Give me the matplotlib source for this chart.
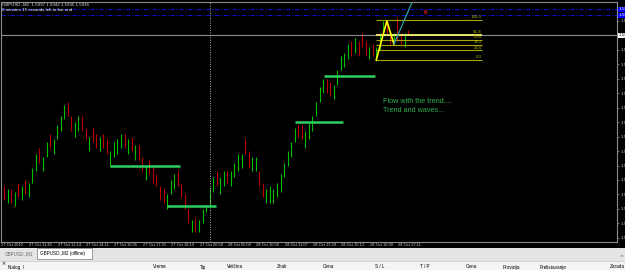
import numpy as np
import matplotlib.pyplot as plt
from matplotlib.patches import Rectangle
from matplotlib import transforms

plt.rcParams['font.family'] = ['Liberation Sans', 'DejaVu Sans']

# GBPUSD offline M2 bars, oldest first
highs = [1.5883, 1.5882, 1.5882, 1.5881, 1.5884, 1.5883, 1.5885, 1.5884, 1.5889, 1.5894,
         1.5896, 1.5893, 1.5898, 1.5901, 1.5899, 1.5904, 1.5907, 1.5911, 1.5912, 1.5907,
         1.5905, 1.5907, 1.5907, 1.5903, 1.5900, 1.5903, 1.5901, 1.5900, 1.5901, 1.5899,
         1.5895, 1.5898, 1.5899, 1.5901, 1.5901, 1.5899, 1.5900, 1.5897, 1.5897, 1.5893,
         1.5890, 1.5892, 1.5890, 1.5887, 1.5883, 1.5882, 1.5880, 1.5885, 1.5887, 1.5888,
         1.5884, 1.5880, 1.5875, 1.5871, 1.5872, 1.5871, 1.5875, 1.5876, 1.5882, 1.5886,
         1.5888, 1.5886, 1.5888, 1.5888, 1.5888, 1.5891, 1.5894, 1.5894, 1.5899, 1.5895,
         1.5893, 1.5893, 1.5888, 1.5884, 1.5882, 1.5883, 1.5882, 1.5884, 1.5887, 1.5891,
         1.5895, 1.5898, 1.5903, 1.5904, 1.5904, 1.5902, 1.5905, 1.5907, 1.5912, 1.5917,
         1.5920, 1.5920, 1.5919, 1.5918, 1.5923, 1.5928, 1.5929, 1.5932, 1.5933, 1.5934,
         1.5933, 1.5936, 1.5933, 1.5931, 1.5932, 1.5931, 1.5936, 1.5940, 1.5940, 1.5936,
         1.5936, 1.5941, 1.5936, 1.5936, 1.5937]
lows = [1.5878, 1.5877, 1.5877, 1.5876, 1.5879, 1.5878, 1.5880, 1.5879, 1.5884, 1.5888,
        1.5891, 1.5888, 1.5893, 1.5896, 1.5894, 1.5899, 1.5902, 1.5906, 1.5907, 1.5902,
        1.5900, 1.5902, 1.5902, 1.5899, 1.5895, 1.5898, 1.5896, 1.5895, 1.5896, 1.5894,
        1.5890, 1.5893, 1.5894, 1.5896, 1.5896, 1.5894, 1.5895, 1.5892, 1.5892, 1.5888,
        1.5885, 1.5887, 1.5884, 1.5883, 1.5878, 1.5877, 1.5875, 1.5880, 1.5882, 1.5883,
        1.5879, 1.5875, 1.5870, 1.5867, 1.5867, 1.5867, 1.5870, 1.5874, 1.5876, 1.5881,
        1.5883, 1.5880, 1.5883, 1.5884, 1.5883, 1.5886, 1.5888, 1.5889, 1.5894, 1.5889,
        1.5888, 1.5888, 1.5883, 1.5879, 1.5877, 1.5877, 1.5877, 1.5879, 1.5881, 1.5886,
        1.5890, 1.5893, 1.5898, 1.5900, 1.5899, 1.5896, 1.5899, 1.5902, 1.5907, 1.5912,
        1.5915, 1.5915, 1.5914, 1.5913, 1.5918, 1.5923, 1.5924, 1.5927, 1.5928, 1.5929,
        1.5928, 1.5931, 1.5928, 1.5927, 1.5928, 1.5926, 1.5930, 1.5935, 1.5936, 1.5932,
        1.5932, 1.5933, 1.5932, 1.5931, 1.5935]
# u = bull bar, d = bear bar, ten bars per chunk
dirs = ("dudududuuu" "duuduuuudd" "uudduddudd" "uuuudududd" "uddddduuud"
        "ddduduuuuu" "duuduuuudd" "uudduuuuuu" "uuudduuuuu" "udduuuuudu"
        "ddduduuudd" "uddud")

time_labels = ['27 Oct 2010', '27 Oct 11:45', '27 Oct 12:14', '27 Oct 14:11', '27 Oct 16:05',
               '27 Oct 17:25', '27 Oct 18:19', '27 Oct 20:58', '28 Oct 05:04', '28 Oct 10:08',
               '28 Oct 11:07', '28 Oct 13:29', '28 Oct 15:13', '28 Oct 16:09', '28 Oct 17:11']
label_step = 8
separator_bar = 58

bid = 1.5935
bid_text = '1.5936'
blue_levels = [1.5944, 1.5942]

fib_low, fib_high = 1.59265, 1.59405
fib_ratios = [100.0, 61.8, 50.0, 38.2, 23.6, 0.0]
fib_start, fib_end = 105, 134.8
zig_bars = [105, 108, 110]
zig_prices = [1.59265, 1.5940, 1.5932]
ray_bars = [110, 116]
ray_prices = [1.5932, 1.5949]

lvl_start = [29.9, 46.0, 82.1, 90.3]
lvl_end = [49.6, 59.8, 95.6, 104.7]
lvl_price = [1.5890, 1.5876, 1.5905, 1.5921]

# screen geometry of the MT4 window (pixels)
W, H = 625, 270
bar0_px, bar_px = 4.0, 3.545
ref_price, ref_y, px_per_pip = 1.5940, 21.0, 2.89
ax_l, ax_r, ax_t, ax_b = 0.5, 617.0, 1.7, 241.5


def y2p(y):
    return ref_price - (y - ref_y) / px_per_pip / 10000


fig = plt.figure(figsize=(W / 100, H / 100), dpi=100, facecolor='black')
ax = fig.add_axes([ax_l / W, (H - ax_b) / H, (ax_r - ax_l) / W, (ax_b - ax_t) / H])
ax.set_facecolor('black')
ax.set_xlim((ax_l - bar0_px) / bar_px, (ax_r - bar0_px) / bar_px)
ax.set_ylim(y2p(ax_b), y2p(ax_t))
for s in ax.spines.values():
    s.set_color('#8c8c8c')
    s.set_linewidth(0.8)

# bars
x = np.arange(len(highs))
cols = ['#00c000' if d == 'u' else '#c00000' for d in dirs]
ax.vlines(x, lows, highs, colors=cols, linewidth=0.8)

# price lines
ax.axhline(bid, color='#8c8c8c', lw=0.8)
for lv in blue_levels:
    ax.axhline(lv, color='#1010c8', lw=0.8, ls=(0, (4, 1.5, 1, 1.5)))
ax.axvline(separator_bar, color='#b0b0b0', lw=0.7, ls=(0, (1, 1.5)))

# support / resistance marks
ax.hlines(lvl_price, lvl_start, lvl_end, colors='#2ed060', lw=1.8)

# fibonacci
for r in fib_ratios:
    p = fib_low + (fib_high - fib_low) * r / 100
    c, w = ('#f4f470', 1.3) if r == 61.8 else ('#a8a800', 0.8)
    ax.hlines(p, fib_start, fib_end, colors=c, lw=w)
    ax.annotate('%.1f' % r, (fib_end, p), xytext=(0, 0.4), textcoords='offset points',
                ha='right', va='bottom', fontsize=3.2, color='#b0b000')
ax.plot(zig_bars, zig_prices, color='#ffff00', lw=1.2)
ax.plot(ray_bars, ray_prices, color='#2aa0a8', lw=0.9)
ax.text(119, 1.5943, '6', color='#e01010', fontsize=4.5, fontweight='bold', ha='center', va='center')

ax.text(107, 1.5912, 'Flow with the trend....', color='#30b050', fontsize=5.2, va='center')
ax.text(107, 1.5909, 'Trend and waves...', color='#30b050', fontsize=5.2, va='center')

# axes ticks
yt = [round(1.5865 + 0.0005 * k, 4) for k in range(16)]
yt = [v for v in yt if abs(v - 1.5935) > 1e-6]
ax.set_yticks(yt)
ax.set_yticklabels(['%.4f' % v for v in yt])
ax.yaxis.tick_right()
ax.tick_params(axis='y', length=1.5, width=0.5, color='#8c8c8c', pad=1,
               labelsize=3.2, labelcolor='#c8c8c8')
xt = list(range(0, len(time_labels) * label_step, label_step))
ax.set_xticks(xt)
ax.set_xticklabels(time_labels)
ax.tick_params(axis='x', length=1, width=0.5, color='#8c8c8c', pad=0.4,
               labelsize=2.9, labelcolor='#c8c8c8')
shift = transforms.ScaledTranslation(-3 / 100, 0, fig.dpi_scale_trans)
for lab in ax.get_xticklabels():
    lab.set_ha('left')
    lab.set_transform(lab.get_transform() + shift)

ax.annotate(bid_text, (1, bid), xycoords=('axes fraction', 'data'), xytext=(1.2, 0),
            textcoords='offset points', ha='left', va='center', fontsize=3.2, color='black',
            bbox=dict(boxstyle='square,pad=0.15', fc='white', ec='none'), annotation_clip=False)
for lv in blue_levels:
    ax.annotate('%.4f' % lv, (1, lv), xycoords=('axes fraction', 'data'), xytext=(1.2, 0),
                textcoords='offset points', ha='left', va='center', fontsize=3.2, color='white',
                bbox=dict(boxstyle='square,pad=0.15', fc='#0000ff', ec='none'), annotation_clip=False)

# terminal window bits drawn in screen pixels
ui = fig.add_axes([0, 0, 1, 1], zorder=5)
ui.set_xlim(0, W)
ui.set_ylim(H, 0)
ui.axis('off')
ui.text(2, 4.6, 'GBPUSD.,M2  1.5937 1.5942 1.5935 1.5936', fontsize=3.2, color='#e0e0e0', va='center')
ui.text(2, 9.6, '0 minutes 15 seconds left to bar end', fontsize=3.2, color='#ffffff', va='center')

ui.add_patch(Rectangle((0, 247.5), W, 13, fc='#e4e4e4', ec='none'))
ui.add_patch(Rectangle((37, 248.3), 55, 10.3, fc='white', ec='#7a7a7a', lw=0.5))
ui.text(5, 253.5, 'GBPUSD.,M1', fontsize=3.3, color='#6a6a6a', va='center')
ui.text(40, 253.5, 'GBPUSD.,M2 (offline)', fontsize=3.3, color='black', va='center')
ui.text(622, 255.5, '◄', fontsize=3, color='#909090', va='center', ha='center', family='DejaVu Sans')
ui.add_patch(Rectangle((0, 260.5), W, 10, fc='#f4f4f4', ec='none'))
ui.plot([0, W], [261, 261], color='#c8c8c8', lw=0.5)
ui.text(1, 263.5, '×', fontsize=3.6, color='black', va='center', family='DejaVu Sans')
headers = ['Nalog  /', 'Vreme', 'Tip', 'Veličina', 'Znak', 'Cena', 'S / L', 'T / P', 'Cena',
           'Provizija', 'Prelistavanje', 'Zarada']
header_x = [8, 153, 200, 227, 277, 323, 375, 420, 466, 503, 540, 610]
for t, hx in zip(headers, header_x):
    ui.text(hx, 267, t, fontsize=3.3, color='black', va='center')

fig.savefig('out.png', dpi=100, facecolor='black')
